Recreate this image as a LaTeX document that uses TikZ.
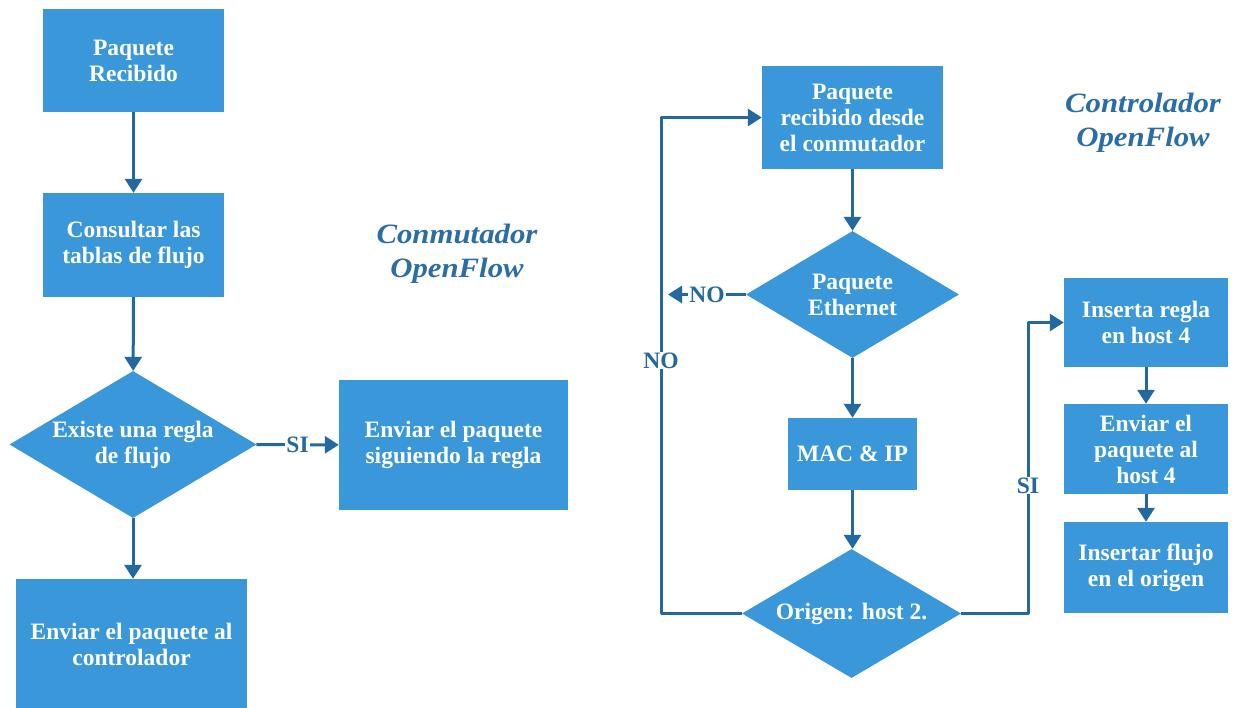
\documentclass[tikz,border=0pt]{standalone}
\usepackage{fontspec}
\setmainfont{Liberation Serif}
\newfontfamily\headfont{Liberation Serif}[FakeStretch=1.1]
\usetikzlibrary{arrows.meta,shapes.geometric}
\definecolor{boxfill}{HTML}{3A98DA}
\definecolor{linecol}{HTML}{2468A0}
\definecolor{titlecol}{HTML}{2B6EA6}
\begin{document}
\begin{tikzpicture}[x=1pt,y=-1pt,
  txt/.style={font=\bfseries\fontsize{23.5}{26}\selectfont},
  proc/.style={txt, rectangle, fill=boxfill, text=white, align=center, inner sep=0pt},
  decision/.style={txt, diamond, fill=boxfill, text=white, align=center, inner sep=-4pt},
  flow/.style={draw=linecol, line width=3pt, line join=round, -{Triangle[width=17pt,length=14pt]}},
  lbl/.style={txt, text=linecol, fill=white, inner sep=1pt},
  heading/.style={text=titlecol, font=\headfont\bfseries\itshape\fontsize{28}{34}\selectfont, align=center}]
\useasboundingbox[fill=white] (0,0) rectangle (1233,707);

% ---- switch side ----
\node[proc, minimum width=181, minimum height=103] (recv) at (133.5,60.5) {Paquete\\Recibido};
\node[proc, minimum width=181, minimum height=104] (tables) at (133.5,245) {Consultar las\\tablas de flujo};
\node[decision, aspect=1.68, minimum width=247, minimum height=147] (rule) at (133,444.5) {Existe una regla\\de flujo};
\node[proc, minimum width=229, minimum height=130] (follow) at (453.5,445) {Enviar el paquete\\siguiendo la regla};
\node[proc, minimum width=231, minimum height=131] (toctl) at (131.5,644.5) {Enviar el paquete al\\controlador};
\node[heading] (swtitle) at (457,254) {Conmutador\\OpenFlow};

\draw[flow] (recv) -- (tables);
\draw[flow] (tables) -- (rule);
\draw[flow] (rule) -- node[lbl] {SI} (follow);
\draw[flow] (rule.south) -- (rule.south |- toctl.north);

% ---- controller side ----
\node[proc, minimum width=181, minimum height=103] (fromsw) at (852.5,117.5) {Paquete\\recibido desde\\el conmutador};
\node[decision, aspect=1.68, minimum width=213, minimum height=127] (eth) at (852.5,294.5) {Paquete\\Ethernet};
\node[proc, minimum width=129, minimum height=72] (macip) at (852.5,454) {MAC \& IP};
\node[decision, aspect=1.7, minimum width=219, minimum height=129] (origin) at (851.5,613.5) {Origen: host 2.};
\node[proc, minimum width=164, minimum height=89] (insrule) at (1146,322.5) {Inserta regla\\en host 4};
\node[proc, minimum width=164, minimum height=90] (send4) at (1146,449) {Enviar el\\paquete al\\host 4};
\node[proc, minimum width=164, minimum height=91] (insflow) at (1146,567.5) {Insertar flujo\\en el origen};
\node[heading] (ctltitle) at (1143,123) {Controlador\\OpenFlow};

\coordinate (noend) at (668,294.5);
\coordinate (loopL) at (661,613.5);
\coordinate (loopR) at (1028,613.5);

\draw[flow] (fromsw) -- (eth);
\draw[flow] (eth.west) -- node[lbl] {NO} (noend);
\draw[flow] (eth) -- (macip);
\draw[flow] (macip.south) -- (macip.south |- origin.north);
\draw[flow] (origin.west) -- (loopL) -- node[lbl, pos=0.51] {NO} (loopL |- fromsw.west) -- (fromsw.west);
\draw[flow] (origin.east) -- (loopR) -- node[lbl, pos=0.44] {SI} (loopR |- insrule.west) -- (insrule.west);
\draw[flow] (insrule) -- (send4);
\draw[flow] (send4) -- (insflow);
\end{tikzpicture}
\end{document}
